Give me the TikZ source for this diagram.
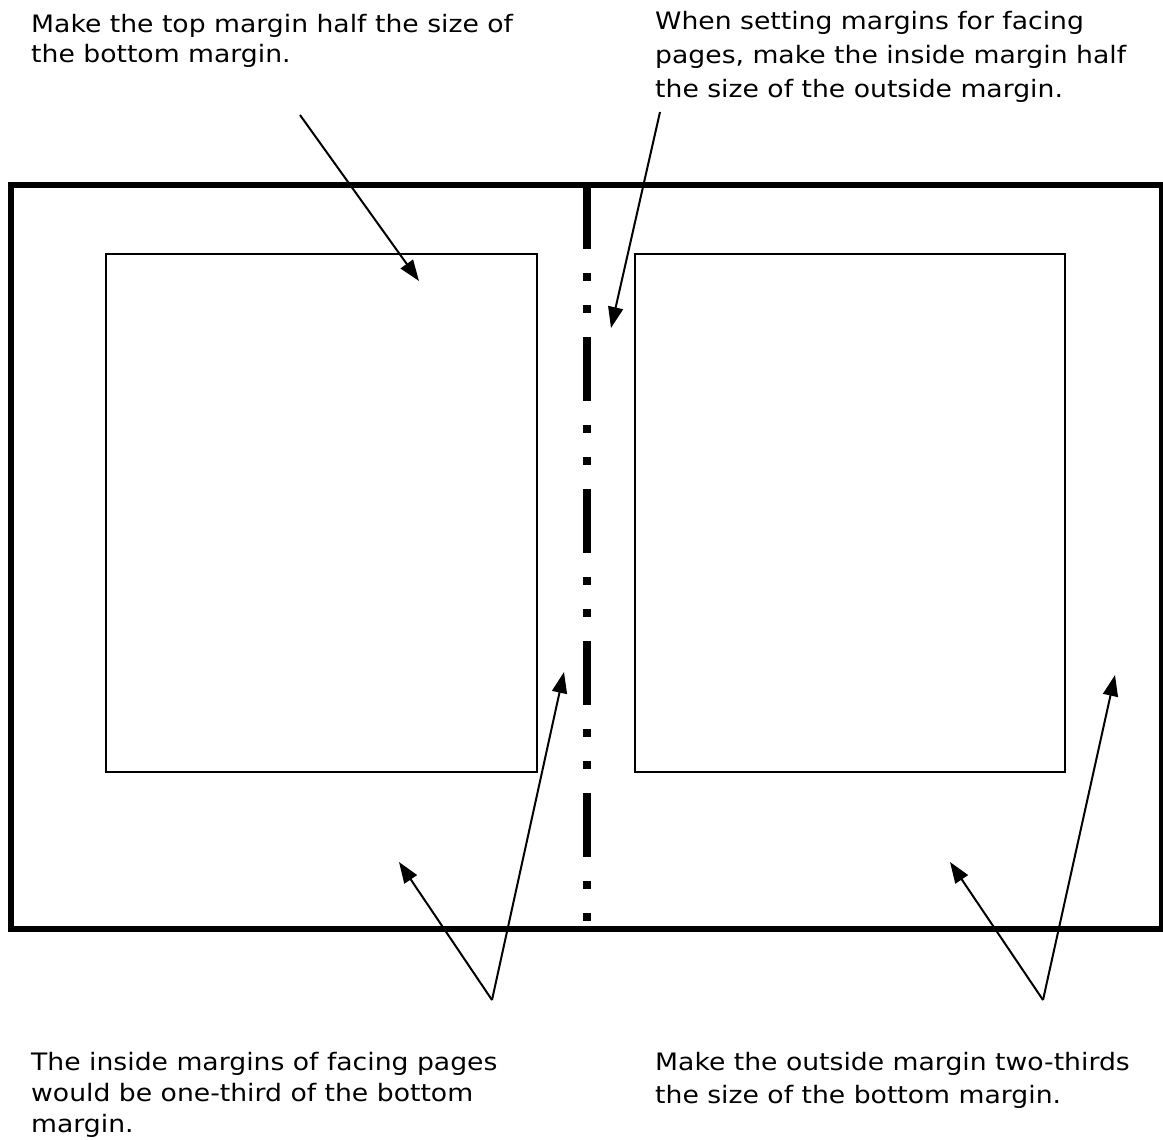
\documentclass[tikz,border=0pt]{standalone}
\usepackage{fontspec}
\setmainfont{DejaVu Sans}[FakeStretch=1.11]
\usetikzlibrary{arrows.meta}
\begin{document}
\begin{tikzpicture}[x=1pt,y=-1pt,
  lbl/.style={anchor=north west,inner sep=0pt,align=left},
  frame/.style={line width=6pt},
  textbox/.style={line width=1.6pt},
  spine/.style={line width=8pt,dash pattern=on 64pt off 24pt on 8pt off 24pt on 8pt off 24pt},
  pointer/.style={line width=2pt,-{Triangle[length=21pt,width=15pt]}}
]
\useasboundingbox (0,0) rectangle (1163,1140);
\draw[frame] (11,185) rectangle (1162,929);
\draw[textbox] (106,254) rectangle (537,772);
\draw[textbox] (635,254) rectangle (1065,772);
\coordinate (s1) at (587,185);
\coordinate (s2) at (587,929);
\draw[spine] (s1) -- (s2);

\node[lbl,font=\fontsize{24}{30}\selectfont] (t1) at (31,14) {Make the top margin half the size of\\the bottom margin.};
\node[lbl,font=\fontsize{24}{34}\selectfont] (t2) at (655,11) {When setting margins for facing\\pages, make the inside margin half\\the size of the outside margin.};
\node[lbl,font=\fontsize{24}{31}\selectfont] (t3) at (31,1052) {The inside margins of facing pages\\would be one-third of the bottom\\margin.};
\node[lbl,font=\fontsize{24}{33}\selectfont] (t4) at (655,1052) {Make the outside margin two-thirds\\the size of the bottom margin.};

\coordinate (a1s) at (300,115);
\coordinate (a1e) at (419,281);
\coordinate (a2s) at (660,112);
\coordinate (a2e) at (611,328);
\coordinate (a3) at (492,1000);
\coordinate (a3l) at (399,862);
\coordinate (a3r) at (564,672);
\coordinate (a4) at (1043,1000);
\coordinate (a4l) at (950,862);
\coordinate (a4r) at (1115,675);
\draw[pointer] (a1s) -- (a1e);
\draw[pointer] (a2s) -- (a2e);
\draw[pointer] (a3) -- (a3l);
\draw[pointer] (a3) -- (a3r);
\draw[pointer] (a4) -- (a4l);
\draw[pointer] (a4) -- (a4r);
\end{tikzpicture}
\end{document}
